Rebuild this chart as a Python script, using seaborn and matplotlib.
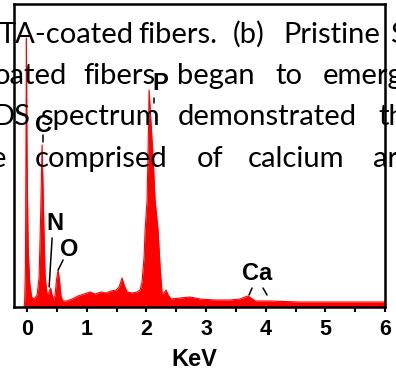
import matplotlib
matplotlib.use("Agg")
import matplotlib.pyplot as plt
import seaborn as sns
import numpy as np
import pandas as pd
from matplotlib.ticker import MultipleLocator

# --- data (energy in keV, intensity in counts) ---
energy = [-0.05, -0.042, -0.028, -0.020, -0.012, -0.002, 0.017, 0.042, 0.075, 0.117,
          0.168, 0.201, 0.226, 0.251, 0.277, 0.302, 0.335, 0.369, 0.394, 0.419,
          0.444, 0.469, 0.494, 0.520, 0.545, 0.570, 0.603, 0.670, 0.754, 0.855,
          0.955, 1.056, 1.140, 1.240, 1.324, 1.408, 1.492, 1.542, 1.592, 1.626,
          1.676, 1.760, 1.843, 1.894, 1.927, 1.961, 1.978, 2.011, 2.028, 2.045,
          2.061, 2.086, 2.112, 2.145, 2.195, 2.229, 2.262, 2.296, 2.329, 2.363,
          2.413, 2.564, 2.732, 2.899, 3.151, 3.402, 3.570, 3.654, 3.704, 3.754,
          3.822, 4.072, 4.575, 5.078, 5.581, 6.0]
counts = [0, 50, 400, 1500, 2690, 1500, 600, 250, 100, 80,
          120, 300, 900, 1620, 900, 300, 120, 150, 190, 120,
          70, 120, 280, 370, 250, 100, 60, 60, 80, 110,
          130, 150, 130, 150, 140, 160, 170, 200, 290, 220,
          150, 140, 150, 170, 250, 500, 770, 1070, 1570, 2170,
          2000, 1750, 1500, 1070, 770, 400, 140, 140, 170, 120,
          80, 90, 100, 80, 70, 70, 80, 100, 110, 90,
          60, 60, 50, 50, 50, 50]

xticks = [0, 1, 2, 3, 4, 5, 6]
xlabel = "KeV"

# element labels: (text, keV, counts)
elem_labels = ["C", "N", "O", "P", "Ca"]
elem_x = [0.268, 0.469, 0.704, 2.229, 3.855]
elem_y = [1810, 830, 580, 2230, 330]

# caption fragments overlapping the figure
caption_lines = [
    ["TA-coated", "fibers.", "(b)", "Pristine", "S"],
    ["oated", "fibers", "began", "to", "emerg"],
    ["DS", "spectrum", "demonstrated", "th"],
    ["e", "comprised", "of", "calcium", "ar"],
]

df = pd.DataFrame({"energy": energy, "counts": counts})

sns.set_style("white")
plt.rcParams["font.family"] = ["Liberation Sans", "DejaVu Sans"]
plt.rcParams["text.color"] = "black"
plt.rcParams["axes.labelcolor"] = "black"
plt.rcParams["xtick.color"] = "black"
plt.rcParams["xtick.labelcolor"] = "black"

W, H = 396, 376
fig = plt.figure(figsize=(W / 100, H / 100), dpi=100)
ax = fig.add_axes([14 / W, 1 - 307 / H, (385 - 14) / W, (307 - 4) / H])

ax.fill_between(df["energy"], 0, df["counts"], color="#ff0000", linewidth=0, zorder=2)
sns.lineplot(data=df, x="energy", y="counts", ax=ax, color="#ff0000", linewidth=0.8, zorder=2)

ax.set_xlim(-0.22, 6.0)
ax.set_ylim(0, 3030)
ax.set_xticks(xticks)
ax.set_xticklabels([str(t) for t in xticks])
ax.xaxis.set_minor_locator(MultipleLocator(0.5))
ax.set_yticks([])
ax.set_ylabel("")
ax.tick_params(axis="x", which="both", direction="out", bottom=True, top=False,
               length=3.6, width=1.5, color="black", pad=5, labelcolor="black")
ax.tick_params(axis="x", which="major", labelsize=15.5)
for lab in ax.get_xticklabels():
    lab.set_fontweight("bold")
    lab.set_color("black")
ax.set_xlabel(xlabel, fontsize=17, fontweight="bold", color="black")
ax.xaxis.set_label_coords(0.485, -0.135)
for s in ax.spines.values():
    s.set_visible(True)
    s.set_linewidth(1.8)
    s.set_color("black")

# element labels and leader lines
for t, x, y in zip(elem_labels, elem_x, elem_y):
    ax.text(x, y, t, fontsize=17, fontweight="bold", ha="center", va="center",
            color="black", zorder=5)
lk = dict(color="black", linewidth=1.1, zorder=5)
ax.plot([0.268, 0.268], [1720, 1650], **lk)
ax.plot([2.128, 2.128], [2090, 2040], **lk)
ax.plot([0.419, 0.369], [690, 200], **lk)
ax.plot([0.603, 0.520], [470, 370], **lk)
ax.plot([3.771, 3.721], [190, 120], **lk)
ax.plot([3.955, 4.022], [190, 120], **lk)

# caption fragments (figure pixel positions)
word_x = [
    [-1, 138, 233, 283, 390],
    [-6, 83, 177, 275, 323],
    [-8, 40, 178, 378],
    [-9, 35, 197, 248, 373],
]
baselines = [43, 84, 125, 167]
for words, xs, yb in zip(caption_lines, word_x, baselines):
    for w, xp in zip(words, xs):
        fig.text(xp / W, 1 - yb / H, w, fontsize=21, family=["Lato", "DejaVu Sans"],
                 ha="left", va="baseline", color="black", zorder=10)

fig.savefig("out.png", dpi=100)
